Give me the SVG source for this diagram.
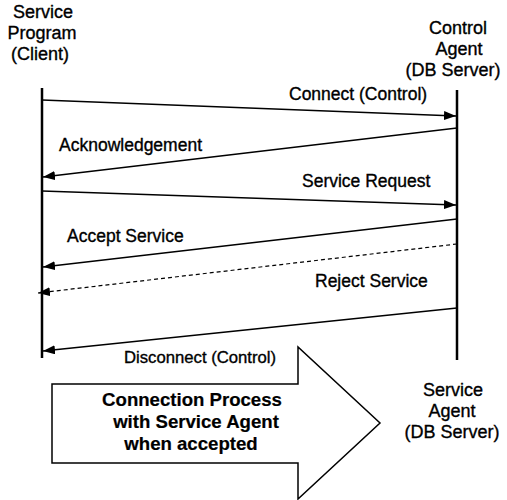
<svg xmlns="http://www.w3.org/2000/svg" width="507" height="500" viewBox="0 0 507 500">
  <style>
    text { font-family: "Liberation Sans", Arial, sans-serif; fill: #000; stroke: #000; stroke-width: 0.35; }
    .node { font-size: 18px; text-anchor: middle; }
    .msg { font-size: 17.5px; }
    .big { font-size: 18.6px; font-weight: bold; text-anchor: middle; stroke-width: 0.2; }
    .life { stroke: #000; stroke-width: 2.5; fill: none; }
    .arrow { stroke: #000; stroke-width: 1.5; fill: none; marker-end: url(#head); }
    .dashed { stroke-dasharray: 4 3; stroke-width: 1.2; }
  </style>
  <defs>
    <marker id="head" markerUnits="userSpaceOnUse" markerWidth="12" markerHeight="9" refX="12" refY="4.5" orient="auto">
      <path d="M0,0 L12,4.5 L0,9 z" fill="#000"/>
    </marker>
  </defs>
  <rect width="507" height="500" fill="#fff"/>

  <!-- client lifeline and label -->
  <g id="client">
    <text class="node" x="43" y="18">Service</text>
    <text class="node" x="42" y="39">Program</text>
    <text class="node" x="40" y="60">(Client)</text>
    <line class="life" x1="42" y1="88" x2="42" y2="358"/>
  </g>

  <!-- control agent lifeline and label -->
  <g id="control-agent">
    <text class="node" x="458" y="34">Control</text>
    <text class="node" x="459" y="55">Agent</text>
    <text class="node" x="453" y="76">(DB Server)</text>
    <line class="life" x1="457" y1="90" x2="457" y2="360"/>
  </g>

  <!-- service agent label -->
  <g id="service-agent">
    <text class="node" x="453" y="396">Service</text>
    <text class="node" x="452" y="417">Agent</text>
    <text class="node" x="452" y="438">(DB Server)</text>
  </g>

  <!-- hand-over to the service agent -->
  <g id="connection-process">
    <path d="M52,384 L298,384 L298,347 L380,423 L298,499 L298,463 L52,463 Z" fill="#fff" stroke="#000" stroke-width="1.5"/>
    <text class="big" x="192" y="406">Connection Process</text>
    <text class="big" x="196" y="428">with Service Agent</text>
    <text class="big" x="191" y="450">when accepted</text>
  </g>

  <!-- messages -->
  <g id="connectors">
    <line class="arrow" x1="42" y1="100" x2="456" y2="116"/>
    <line class="arrow" x1="457" y1="128" x2="43" y2="177"/>
    <line class="arrow" x1="42" y1="191" x2="456" y2="205"/>
    <line class="arrow" x1="457" y1="219" x2="43" y2="267"/>
    <line class="arrow dashed" x1="457" y1="244" x2="38" y2="293"/>
    <line class="arrow" x1="457" y1="308" x2="43" y2="351"/>
  </g>

  <g id="labels">
    <text class="msg" x="289" y="100">Connect (Control)</text>
    <text class="msg" x="59" y="151">Acknowledgement</text>
    <text class="msg" x="302" y="187">Service Request</text>
    <text class="msg" x="67" y="242">Accept Service</text>
    <text class="msg" x="315" y="287">Reject Service</text>
    <text class="msg" x="124" y="363" style="font-size:16.7px">Disconnect (Control)</text>
  </g>
</svg>
